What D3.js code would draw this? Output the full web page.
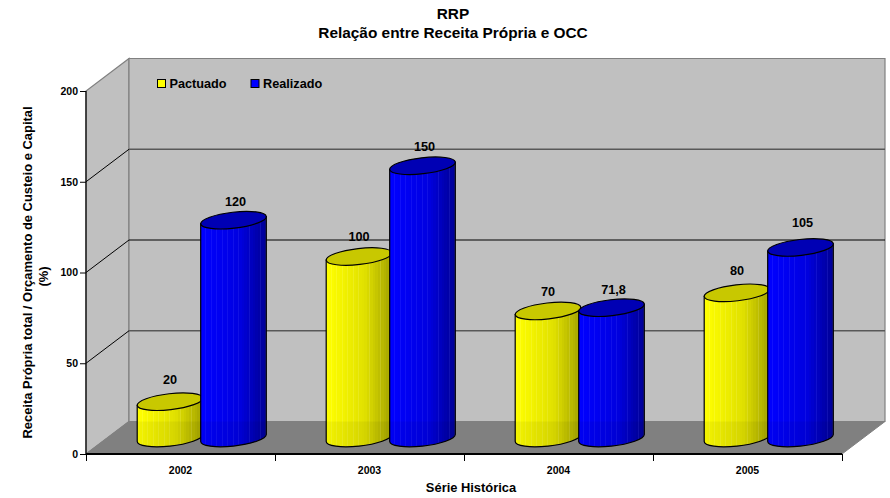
<!DOCTYPE html>
<html><head><meta charset="utf-8">
<script src="https://cdnjs.cloudflare.com/ajax/libs/d3/7.8.5/d3.min.js"></script>
<style>html,body{margin:0;background:#fff}svg{display:block}text{font-family:"Liberation Sans",Arial,sans-serif;font-weight:bold;fill:#000}</style>
</head><body><div id="c"></div>
<script>
const categories = ["2002","2003","2004","2005"];
const seriesNames = ["Pactuado","Realizado"];
const pactuado = [20,100,70,80];
const realizado = [120,150,71.8,105];
const valueTicks = [0,50,100,150,200];
const labelsPactuado = ["20","100","70","80"];
const labelsRealizado = ["120","150","71,8","105"];

const W=890,H=498;
const svg=d3.select("#c").append("svg").attr("width",W).attr("height",H);
const x0=86,x1=842,dx=43,dy=-32.5;
const y=d3.scaleLinear().domain([0,200]).range([454,91]);
const xBand=d3.scaleBand().domain(categories).range([x0,x1]);
const defs=svg.append("defs");
const liftP=[1,-1,-2,1], liftR=[0,1,0,6]; // label placement tweaks, px

function stripes(id,base,mid,dark,light){
  const g=defs.append("linearGradient").attr("id",id);
  const n=24;
  const col=d3.scaleLinear().domain([0,0.6,1]).range([base,mid,dark]);
  for(let i=0;i<n;i++){
    const c=col(i/(n-1));
    const c2=i%2?d3.interpolateRgb(c,light)(0.11):c;
    g.append("stop").attr("offset",i/n).attr("stop-color",c);
    g.append("stop").attr("offset",(i+.7)/n).attr("stop-color",c);
    g.append("stop").attr("offset",(i+.7)/n).attr("stop-color",c2);
    g.append("stop").attr("offset",(i+1)/n).attr("stop-color",c2);
  }
}
stripes("gy","#ffff00","#e0e000","#a6a600","#ffffff");
stripes("gb","#0000ff","#0000e0","#000098","#9090ff");

// walls
const wall="#c0c0c0",edge="#808080";
const poly=pts=>"M"+pts.map(p=>p.join(",")).join("L")+"Z";
svg.append("path").attr("d",poly([[x0,y(0)],[x0+dx,y(0)+dy],[x0+dx,y(200)+dy],[x0,y(200)]])).attr("fill",wall).attr("stroke",edge).attr("stroke-width",1.2);
svg.append("path").attr("d",poly([[x0+dx,y(0)+dy],[x1+dx,y(0)+dy],[x1+dx,y(200)+dy],[x0+dx,y(200)+dy]])).attr("fill",wall).attr("stroke",edge).attr("stroke-width",1.2);
svg.append("path").attr("d",poly([[x0,y(0)],[x1,y(0)],[x1+dx,y(0)+dy],[x0+dx,y(0)+dy]])).attr("fill","#808080").attr("stroke",edge);
// grid
valueTicks.filter(v=>v>0&&v<200).forEach(v=>{
  svg.append("path").attr("fill","none").attr("stroke","#000").attr("stroke-width",1)
   .attr("d",`M${x0},${y(v)}L${x0+dx},${y(v)+dy}`);
  svg.append("path").attr("fill","none").attr("stroke",v===100?"#000":"#585858").attr("stroke-width",v===100?1:1.5)
   .attr("d",`M${x0+dx},${y(v)+dy}L${x1+dx},${y(v)+dy}`);
});

// axes
const gy=svg.append("g").attr("transform",`translate(${x0},0)`)
 .call(d3.axisLeft(y).tickValues(valueTicks).tickSize(6).tickPadding(2).tickFormat(d3.format("d")));
gy.selectAll("path").attr("stroke","#000").attr("stroke-width",1.2).attr("d",`M0,${y(0)}V${y(200)}`);
gy.selectAll("line").attr("stroke","#000");
gy.selectAll("text").attr("font-size",10.5).style("font-family",'"Liberation Sans",Arial,sans-serif');
const xEdges=d3.scaleLinear().domain([0,categories.length]).range([x0,x1]);
const gx=svg.append("g").attr("transform",`translate(0,${y(0)})`)
 .call(d3.axisBottom(xEdges).tickValues(d3.range(categories.length+1)).tickSize(7).tickFormat(""));
gx.selectAll("path").attr("stroke","#000").attr("stroke-width",2).attr("d",`M${x0},0H${x1}`);
gx.selectAll("line").attr("stroke","#000");
svg.append("g").selectAll("text").data(categories).join("text")
 .attr("x",d=>xBand(d)+xBand.bandwidth()/2).attr("y",474).attr("text-anchor","middle").attr("font-size",10.5).text(d=>d);

// cylinders
const rx=33,ry=8,tilt=-6.5;
const bw=xBand.bandwidth();
const baseY=y(0)-16;
const floorY=y(0)+dy;
const sc=d3.scaleLinear().domain([0,200]).range([baseY,baseY-(y(0)-y(200))]);
const rad=Math.PI/180;
const t0=Math.atan2(-ry*Math.sin(tilt*rad),rx*Math.cos(tilt*rad));
const hx=rx*Math.cos(t0)*Math.cos(tilt*rad)-ry*Math.sin(t0)*Math.sin(tilt*rad);
const hy=rx*Math.cos(t0)*Math.sin(tilt*rad)+ry*Math.sin(t0)*Math.cos(tilt*rad);
defs.append("clipPath").attr("id","belowFloor").append("rect").attr("x",0).attr("y",floorY).attr("width",W).attr("height",H-floorY);
function cyl(cx,v,grad,cap){
  const ty=sc(v);
  const g=svg.append("g");
  const d=`M${cx-hx},${ty-hy}L${cx-hx},${baseY-hy}A${rx},${ry} ${tilt} 0 0 ${cx+hx},${baseY+hy}L${cx+hx},${ty+hy}Z`;
  g.append("path").attr("fill",`url(#${grad})`).attr("stroke","#000").attr("stroke-width",1.2).attr("d",d);
  g.append("path").attr("fill","#000").attr("fill-opacity",0.05).attr("clip-path","url(#belowFloor)").attr("d",d);
  g.append("ellipse").attr("cx",cx).attr("cy",ty).attr("rx",rx).attr("ry",ry)
   .attr("transform",`rotate(${tilt} ${cx} ${ty})`).attr("fill",cap).attr("stroke","#000").attr("stroke-width",1.2);
}
categories.forEach((c,i)=>cyl(xBand(c)+bw/2-10.5,pactuado[i],"gy","#c8c800"));
categories.forEach((c,i)=>cyl(xBand(c)+bw/2+53,realizado[i],"gb","#0000b4"));
// data labels
const lab=svg.append("g").attr("font-size",12.7).attr("text-anchor","middle");
categories.forEach((c,i)=>{
  const mid=xBand(c)+bw/2;
  lab.append("text").attr("x",mid-10.5).attr("y",sc(pactuado[i])-17-liftP[i]).text(labelsPactuado[i]);
  lab.append("text").attr("x",mid+55).attr("y",sc(realizado[i])-14-liftR[i]).text(labelsRealizado[i]);
});
// legend
const lg=svg.append("g");
[[157.5,"#ffff00"],[251,"#0000ff"]].forEach(([lx,col],i)=>{
  lg.append("rect").attr("x",lx).attr("y",79.5).attr("width",8).attr("height",8).attr("fill",col).attr("stroke","#000");
  lg.append("text").attr("x",lx+12).attr("y",88).attr("font-size",12.7).text(seriesNames[i]);
});
// titles
svg.append("text").attr("x",453).attr("y",19).attr("text-anchor","middle").attr("font-size",15.4).text("RRP");
svg.append("text").attr("x",453).attr("y",38).attr("text-anchor","middle").attr("font-size",15.4).text("Relação entre Receita Própria e OCC");
svg.append("text").attr("x",471).attr("y",492).attr("text-anchor","middle").attr("font-size",12.9).text("Série Histórica");
const yt=svg.append("g").attr("transform","translate(32,272.5) rotate(-90)").attr("text-anchor","middle").attr("font-size",12.95);
yt.append("text").attr("x",0).attr("y",0).text("Receita Própria total / Orçamento de Custeio e Capital");
yt.append("text").attr("x",-4).attr("y",15.5).text("(%)");
</script></body></html>
